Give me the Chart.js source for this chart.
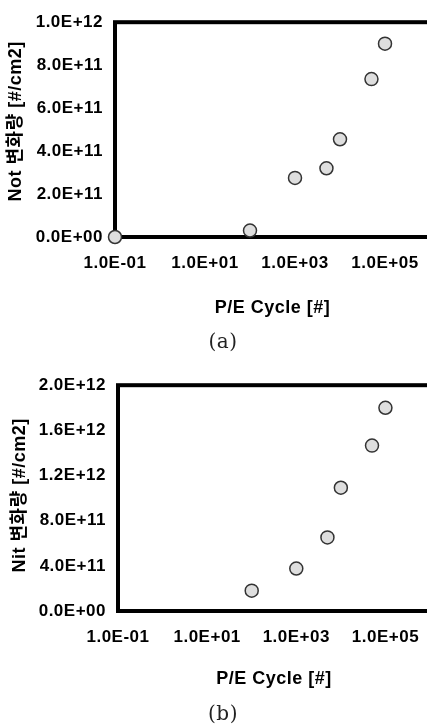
<!DOCTYPE html>
<html>
<head>
<meta charset="utf-8">
<script src="https://cdn.jsdelivr.net/npm/chart.js@4.4.1/dist/chart.umd.min.js"></script>
<style>
	html, body { margin: 0; padding: 0; background: #fff; overflow: hidden; }
	canvas { position: absolute; left: 0; }
	#not-chart { top: 0; }
	#nit-chart { top: 363px; }
</style>
</head>
<body>
<canvas id="not-chart" width="440" height="363"></canvas>
<canvas id="nit-chart" width="440" height="366"></canvas>
<script>
// (a) Not shift vs P/E cycles
const notCycles = [0.1, 100, 1000, 5000, 10000, 50000, 100000];
const notShift = [0, 3.0e10, 2.75e11, 3.2e11, 4.55e11, 7.35e11, 9.0e11];
// (b) Nit shift vs P/E cycles
const nitCycles = [100, 1000, 5000, 10000, 50000, 100000];
const nitShift = [1.8e11, 3.76e11, 6.52e11, 1.092e12, 1.465e12, 1.8e12];

const cycleTicks = [0.1, 10, 1000, 100000];
const notTicks = [0, 2e11, 4e11, 6e11, 8e11, 1e12];
const nitTicks = [0, 4e11, 8e11, 1.2e12, 1.6e12, 2e12];

const FONT = "'Liberation Sans', 'Noto Sans CJK KR', sans-serif";

// 1.0E-01 style labels
const sci = v => {
	const [m, e] = v.toExponential(1).split('e');
	return m + 'E' + e[0] + e.slice(1).padStart(2, '0');
};

const frame = {
	id: 'frame',
	beforeDraw(chart) {
		// the scanned figure has slightly spaced-out lettering
		chart.ctx.letterSpacing = '0.5px';
	},
	beforeDatasetsDraw(chart) {
		const {ctx, chartArea: a} = chart;
		ctx.save();
		ctx.lineWidth = 4;
		ctx.strokeStyle = '#000';
		ctx.strokeRect(a.left, a.top, a.right - a.left, a.bottom - a.top);
		ctx.restore();
	}
};

function newChart({chartId, xs, ys, yTicks, yTitle, caption, box}) {
	const ctx = document.getElementById(chartId).getContext('2d');

	return new Chart(ctx, {
		type: 'scatter',
		data: {
			datasets: [{
				data: xs.map((x, i) => ({x, y: ys[i]})),
				pointRadius: 6.5,
				pointHoverRadius: 6.5,
				pointBackgroundColor: '#dedede',
				pointBorderColor: '#333',
				pointBorderWidth: 1.5,
				clip: false
			}]
		},
		options: {
			responsive: false,
			animation: false,
			devicePixelRatio: 1,
			events: [],
			layout: {
				padding: {top: box.top, left: 16, right: 10, bottom: box.bottom}
			},
			plugins: {
				legend: {display: false},
				tooltip: {enabled: false},
				title: {
					display: true,
					position: 'bottom',
					text: caption,
					color: '#222',
					padding: 0,
					font: {family: "'DejaVu Serif', serif", size: 20, weight: 'normal'}
				}
			},
			scales: {
				x: {
					type: 'logarithmic',
					min: cycleTicks[0],
					max: 1e6,
					grid: {display: false, drawTicks: false, tickLength: 0},
					border: {display: false},
					afterBuildTicks: scale => {
						scale.ticks = cycleTicks.map(value => ({value}));
					},
					afterFit: scale => {
						scale.height = box.xHeight;
					},
					ticks: {
						autoSkip: false,
						maxRotation: 0,
						padding: 16,
						color: '#000',
						font: {family: FONT, size: 17, weight: 'bold'},
						callback: v => sci(v)
					},
					title: {
						display: true,
						text: 'P/E Cycle [#]',
						color: '#000',
						padding: {top: 0, bottom: box.xTitlePad},
						font: {family: FONT, size: 18, weight: 'bold'}
					}
				},
				y: {
					min: yTicks[0],
					max: yTicks[yTicks.length - 1],
					grid: {display: false, drawTicks: false, tickLength: 0},
					border: {display: false},
					afterBuildTicks: scale => {
						scale.ticks = yTicks.map(value => ({value}));
					},
					afterFit: scale => {
						scale.width = box.left - 16;
					},
					ticks: {
						padding: 12,
						color: '#000',
						font: {family: FONT, size: 17, weight: 'bold'},
						callback: v => sci(v)
					},
					title: {
						display: true,
						text: yTitle,
						color: '#000',
						padding: {top: box.yTitlePad, bottom: 0},
						font: {family: FONT, size: 18, weight: 'bold'}
					}
				}
			}
		},
		plugins: [frame]
	});
}

newChart({
	chartId: 'not-chart',
	xs: notCycles,
	ys: notShift,
	yTicks: notTicks,
	yTitle: '   Not 변화량 [#/cm2]',
	caption: '(a)',
	box: {top: 17, left: 115, bottom: 8, xHeight: 94, xTitlePad: 11.7, yTitlePad: -10.3}
});

newChart({
	chartId: 'nit-chart',
	xs: nitCycles,
	ys: nitShift,
	yTicks: nitTicks,
	yTitle: ' Nit 변화량 [#/cm2]',
	caption: '(b)',
	box: {top: 21, left: 118, bottom: 2, xHeight: 92, xTitlePad: 12.9, yTitlePad: -6.8}
});
</script>
</body>
</html>
